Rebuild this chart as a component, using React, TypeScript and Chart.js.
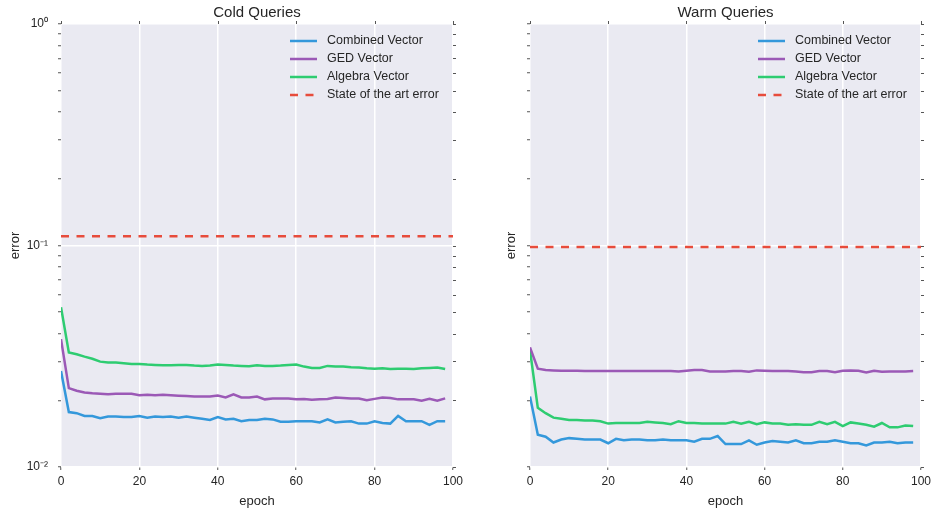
import React, { useEffect, useRef } from "react";
import { Chart, registerables } from "chart.js";

Chart.register(...registerables);

const FONT = '"Liberation Sans", Arial, Helvetica, sans-serif';
const TEXT = "#262626";

const epochs = [
  0, 2, 4, 6, 8, 10, 12, 14, 16, 18, 20, 22, 24, 26, 28, 30, 32, 34, 36, 38,
  40, 42, 44, 46, 48, 50, 52, 54, 56, 58, 60, 62, 64, 66, 68, 70, 72, 74, 76, 78,
  80, 82, 84, 86, 88, 90, 92, 94, 96, 98,
];
const sotaEpochs = [0, 100];

const seriesNames = ["Combined Vector", "GED Vector", "Algebra Vector", "State of the art error"];
const seriesColors = ["#3498db", "#9b59b6", "#2ecc71", "#e74c3c"];
const panelTitles = ["Cold Queries", "Warm Queries"];

const yTicks = [
  0.01, 0.02, 0.03, 0.04, 0.05, 0.06, 0.07, 0.08, 0.09,
  0.1, 0.2, 0.3, 0.4, 0.5, 0.6, 0.7, 0.8, 0.9, 1,
];
const yMajorValues = [0.01, 0.1, 1];
const yTickLabels = ["10⁻²", "10⁻¹", "10⁰"];

const coldCombined = [
  0.0271, 0.0177, 0.0175, 0.0170, 0.0170, 0.0166, 0.0169, 0.0169, 0.0168, 0.0168,
  0.0170, 0.0167, 0.0169, 0.0168, 0.0169, 0.0167, 0.0169, 0.0167, 0.0165, 0.0163,
  0.0168, 0.0164, 0.0165, 0.0161, 0.0163, 0.0163, 0.0165, 0.0164, 0.0160, 0.0160,
  0.0161, 0.0161, 0.0161, 0.0159, 0.0164, 0.0159, 0.0160, 0.0161, 0.0157, 0.0157,
  0.0161, 0.0158, 0.0157, 0.0170, 0.0161, 0.0161, 0.0161, 0.0155, 0.0161, 0.0161,
];
const coldGed = [
  0.0378, 0.0227, 0.0221, 0.0217, 0.0215, 0.0214, 0.0213, 0.0214, 0.0214, 0.0214,
  0.0211, 0.0212, 0.0211, 0.0212, 0.0211, 0.0210, 0.0209, 0.0208, 0.0208, 0.0208,
  0.0210, 0.0206, 0.0213, 0.0206, 0.0206, 0.0208, 0.0202, 0.0204, 0.0204, 0.0204,
  0.0202, 0.0203, 0.0201, 0.0202, 0.0203, 0.0206, 0.0205, 0.0204, 0.0204, 0.0200,
  0.0203, 0.0206, 0.0205, 0.0202, 0.0202, 0.0202, 0.0199, 0.0203, 0.0199, 0.0204,
];
const coldAlgebra = [
  0.0526, 0.0329, 0.0323, 0.0315, 0.0308, 0.0299, 0.0296, 0.0296, 0.0294, 0.0292,
  0.0292, 0.0290, 0.0289, 0.0288, 0.0288, 0.0289, 0.0289, 0.0287, 0.0286, 0.0287,
  0.0290, 0.0289, 0.0287, 0.0286, 0.0285, 0.0288, 0.0286, 0.0286, 0.0287, 0.0289,
  0.0290, 0.0284, 0.0280, 0.0280, 0.0286, 0.0284, 0.0284, 0.0282, 0.0281, 0.0279,
  0.0278, 0.0279, 0.0277, 0.0278, 0.0278, 0.0277, 0.0279, 0.0280, 0.0281, 0.0277,
];
const coldSota = 0.110;

const warmCombined = [
  0.0208, 0.0140, 0.0137, 0.0129, 0.0133, 0.0135, 0.0134, 0.0133, 0.0133, 0.0133,
  0.0128, 0.0134, 0.0132, 0.0133, 0.0133, 0.0132, 0.0132, 0.0133, 0.0132, 0.0132,
  0.0132, 0.0130, 0.0134, 0.0134, 0.0138, 0.0127, 0.0127, 0.0127, 0.0132, 0.0126,
  0.0129, 0.0131, 0.0130, 0.0129, 0.0132, 0.0128, 0.0128, 0.0130, 0.0130, 0.0132,
  0.0130, 0.0128, 0.0128, 0.0125, 0.0129, 0.0129, 0.0130, 0.0128, 0.0129, 0.0129,
];
const warmGed = [
  0.0347, 0.0278, 0.0274, 0.0273, 0.0272, 0.0272, 0.0272, 0.0271, 0.0271, 0.0271,
  0.0271, 0.0271, 0.0271, 0.0271, 0.0271, 0.0271, 0.0271, 0.0271, 0.0271, 0.0270,
  0.0272, 0.0274, 0.0274, 0.0270, 0.0270, 0.0270, 0.0271, 0.0271, 0.0269, 0.0273,
  0.0272, 0.0271, 0.0271, 0.0271, 0.0270, 0.0268, 0.0268, 0.0271, 0.0271, 0.0268,
  0.0272, 0.0273, 0.0272, 0.0267, 0.0272, 0.0269, 0.0270, 0.0270, 0.0270, 0.0271,
];
const warmAlgebra = [
  0.0337, 0.0185, 0.0175, 0.0167, 0.0165, 0.0163, 0.0163, 0.0162, 0.0162, 0.0161,
  0.0157, 0.0158, 0.0158, 0.0158, 0.0158, 0.0160, 0.0159, 0.0158, 0.0156, 0.0161,
  0.0158, 0.0158, 0.0157, 0.0157, 0.0157, 0.0157, 0.0160, 0.0157, 0.0160, 0.0156,
  0.0159, 0.0157, 0.0157, 0.0155, 0.0156, 0.0155, 0.0155, 0.0160, 0.0156, 0.0160,
  0.0153, 0.0159, 0.0157, 0.0155, 0.0152, 0.0158, 0.0151, 0.0151, 0.0154, 0.0153,
];
const warmSota = 0.0984;

const isMajor = (v: number) => yMajorValues.some((m) => Math.abs(m - v) / m < 1e-6);

const bgPlugin = {
  id: "plotBg",
  beforeDraw(chart: any) {
    const { ctx, chartArea: a } = chart;
    ctx.save();
    ctx.fillStyle = "#EAEAF2";
    ctx.fillRect(a.left, a.top, a.right - a.left, a.bottom - a.top);
    ctx.restore();
  },
};

const edgeTicksPlugin = {
  id: "edgeTicks",
  afterDraw(chart: any) {
    const { ctx, chartArea: a, scales } = chart;
    ctx.save();
    ctx.strokeStyle = "#555";
    ctx.lineWidth = 1;
    scales.y.ticks.forEach((t: any) => {
      const y = Math.round(scales.y.getPixelForValue(t.value)) + 0.5;
      ctx.beginPath();
      ctx.moveTo(a.right, y);
      ctx.lineTo(a.right + 3, y);
      ctx.stroke();
    });
    scales.x.ticks.forEach((t: any) => {
      const x = Math.round(scales.x.getPixelForValue(t.value)) + 0.5;
      ctx.beginPath();
      ctx.moveTo(x, a.top);
      ctx.lineTo(x, a.top - 3);
      ctx.stroke();
    });
    ctx.restore();
  },
};

const panelTitlePlugin = {
  id: "panelTitle",
  afterDraw(chart: any, _args: any, opts: any) {
    const { ctx, chartArea: a } = chart;
    ctx.save();
    ctx.fillStyle = TEXT;
    ctx.font = `15px ${FONT}`;
    ctx.textAlign = "center";
    ctx.textBaseline = "middle";
    ctx.fillText(opts.text, (a.left + a.right) / 2, 13);
    ctx.restore();
  },
};

const legendPlugin = {
  id: "insideLegend",
  afterDatasetsDraw(chart: any) {
    const { ctx, chartArea: a } = chart;
    const x0 = a.right - 163;
    chart.data.datasets.forEach((ds: any, i: number) => {
      const y = a.top + 17 + i * 18;
      ctx.save();
      ctx.strokeStyle = ds.borderColor;
      ctx.lineWidth = 2.5;
      ctx.setLineDash(ds.borderDash || []);
      ctx.beginPath();
      ctx.moveTo(x0, y);
      ctx.lineTo(x0 + 27, y);
      ctx.stroke();
      ctx.setLineDash([]);
      ctx.fillStyle = TEXT;
      ctx.font = `12.5px ${FONT}`;
      ctx.textBaseline = "middle";
      ctx.textAlign = "left";
      ctx.fillText(ds.label, x0 + 37, y);
      ctx.restore();
    });
  },
};

function makeConfig(
  title: string,
  combined: number[],
  ged: number[],
  algebra: number[],
  sota: number,
  showYLabels: boolean,
  padLeft: number,
  yWidth: number
): any {
  const pts = (arr: number[]) => epochs.map((e, i) => ({ x: e, y: arr[i] }));
  const lines = [combined, ged, algebra];
  const datasets: any[] = lines.map((arr, i) => ({
    label: seriesNames[i],
    data: pts(arr),
    borderColor: seriesColors[i],
    backgroundColor: seriesColors[i],
    borderWidth: 2.5,
    pointRadius: 0,
    tension: 0,
  }));
  datasets.push({
    label: seriesNames[3],
    data: sotaEpochs.map((x) => ({ x, y: sota })),
    borderColor: seriesColors[3],
    backgroundColor: seriesColors[3],
    borderWidth: 2.5,
    borderDash: [8, 7.5],
    pointRadius: 0,
  });
  return {
    type: "line",
    data: { datasets },
    options: {
      responsive: false,
      animation: false,
      devicePixelRatio: 1,
      layout: { padding: { left: padLeft, right: 0, top: 24, bottom: 0 } },
      plugins: {
        legend: { display: false },
        tooltip: { enabled: false },
        title: { display: false },
        panelTitle: { text: title },
      },
      scales: {
        x: {
          type: "linear",
          min: 0,
          max: 100,
          border: { display: false },
          ticks: {
            stepSize: 20,
            color: TEXT,
            font: { family: FONT, size: 12 },
            padding: 4,
            maxRotation: 0,
          },
          grid: {
            color: "#ffffff",
            lineWidth: 1.5,
            tickColor: "#555",
            tickLength: 3,
            tickWidth: 1,
          },
          title: {
            display: true,
            text: "epoch",
            color: TEXT,
            font: { family: FONT, size: 13 },
            padding: { top: 2, bottom: 2 },
          },
          afterFit: (s: any) => {
            s.height = 44;
          },
        },
        y: {
          type: "logarithmic",
          min: 0.01,
          max: 1,
          border: { display: false },
          afterBuildTicks: (s: any) => {
            s.ticks = yTicks.map((v) => ({ value: v }));
          },
          ticks: {
            autoSkip: false,
            color: TEXT,
            font: { family: FONT, size: 12 },
            padding: 10,
            callback: (v: any) => {
              if (!showYLabels) return "";
              const idx = yMajorValues.findIndex((m) => Math.abs(m - v) / m < 1e-6);
              return idx >= 0 ? yTickLabels[idx] : "";
            },
          },
          grid: {
            color: (c: any) => (c.tick && isMajor(c.tick.value) ? "#ffffff" : "rgba(0,0,0,0)"),
            lineWidth: 1.5,
            tickColor: "#555",
            tickLength: 3,
            tickWidth: 1,
          },
          title: {
            display: true,
            text: "error",
            color: TEXT,
            font: { family: FONT, size: 13 },
            padding: { top: 4, bottom: 0 },
          },
          afterFit: (s: any) => {
            s.width = yWidth;
          },
        },
      },
    },
    plugins: [bgPlugin, legendPlugin, edgeTicksPlugin, panelTitlePlugin],
  };
}

function Panel(props: { cfg: () => any; left: number; width: number }) {
  const ref = useRef<HTMLCanvasElement | null>(null);
  useEffect(() => {
    if (!ref.current) return;
    const chart = new Chart(ref.current, props.cfg());
    return () => chart.destroy();
  }, []);
  return (
    <canvas
      ref={ref}
      width={props.width}
      height={511}
      style={{ position: "absolute", left: props.left, top: 0, width: props.width, height: 511 }}
    />
  );
}

export default function App() {
  return (
    <div
      style={{
        position: "fixed",
        left: 0,
        top: 0,
        width: 932,
        height: 511,
        background: "#ffffff",
        overflow: "hidden",
      }}
    >
      <Panel
        left={0}
        width={467}
        cfg={() => makeConfig(panelTitles[0], coldCombined, coldGed, coldAlgebra, coldSota, true, 4, 57)}
      />
      <Panel
        left={466}
        width={469}
        cfg={() => makeConfig(panelTitles[1], warmCombined, warmGed, warmAlgebra, warmSota, false, 34, 30)}
      />
    </div>
  );
}
